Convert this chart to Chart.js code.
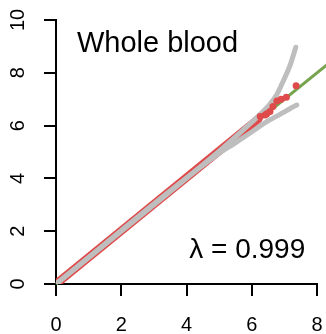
<!DOCTYPE html>
<html>
<head>
<meta charset="utf-8">
<script src="https://cdn.jsdelivr.net/npm/chart.js@4.4.0/dist/chart.umd.min.js"></script>
<style>
  html, body { margin: 0; padding: 0; background: #fff; }
</style>
</head>
<body>
<canvas id="qq" width="326" height="334"></canvas>
<script>
// expected -log10(p) vs observed -log10(p)
const xTicks = [0, 2, 4, 6, 8];
const yTicks = [0, 2, 4, 6, 8, 10];

// reference line y = x
const refLine = [[0, 0], [8.3, 8.3]];

// dense run of observed points along the diagonal
const obsBand = [[0, 0], [6.2, 6.25]];

// top observed points
const obsX = [6.26, 6.41, 6.46, 6.56, 6.65, 6.77, 6.90, 7.06, 7.36];
const obsY = [6.34, 6.40, 6.45, 6.53, 6.72, 6.93, 7.00, 7.07, 7.51];

// confidence band
const upperX = [0, 5.0, 5.5, 6.0, 6.36, 6.56, 6.77, 6.97, 7.18, 7.35];
const upperY = [0, 5.03, 5.57, 6.13, 6.55, 6.82, 7.18, 7.70, 8.30, 8.97];
const lowerX = [0, 5.0, 5.44, 5.95, 6.46, 6.77, 6.97, 7.18, 7.38];
const lowerY = [0, 4.95, 5.3, 5.72, 6.15, 6.36, 6.50, 6.65, 6.78];

const title = 'Whole blood';
const lambdaText = 'λ = 0.999';

const red = '#DF4A4A';
const green = '#78A450';
const grey = '#BEBEBE';
const fontFam = '"Liberation Sans", Arial, sans-serif';

function toPts(xs, ys) {
  return xs.map((x, i) => ({ x: x, y: ys[i] }));
}

// tick labels (y rotated like R's default) and the two text notes
const notes = {
  id: 'notes',
  afterDraw(chart) {
    const ctx = chart.ctx;
    const xs = chart.scales.x;
    const ys = chart.scales.y;
    ctx.save();
    ctx.fillStyle = '#000';
    ctx.font = '20px ' + fontFam;
    ctx.textAlign = 'center';
    ctx.textBaseline = 'alphabetic';
    xTicks.forEach(v => {
      ctx.fillText(String(v), xs.getPixelForValue(v), 331);
    });
    ctx.textBaseline = 'middle';
    yTicks.forEach(v => {
      ctx.save();
      ctx.translate(18, ys.getPixelForValue(v));
      ctx.rotate(-Math.PI / 2);
      ctx.fillText(String(v), 0, 0);
      ctx.restore();
    });
    ctx.font = '29px ' + fontFam;
    ctx.textBaseline = 'alphabetic';
    ctx.textAlign = 'left';
    ctx.fillText(title, xs.getPixelForValue(0.64), ys.getPixelForValue(8.79));
    ctx.font = '28px ' + fontFam;
    ctx.textAlign = 'right';
    ctx.fillText(lambdaText, xs.getPixelForValue(7.64), ys.getPixelForValue(0.97));
    ctx.restore();
  }
};

const axisGrid = { drawOnChartArea: false, color: '#000', lineWidth: 2, tickLength: 12 };

new Chart(document.getElementById('qq'), {
  type: 'scatter',
  data: {
    datasets: [
      {
        data: toPts(obsX, obsY),
        backgroundColor: red,
        borderWidth: 0,
        pointRadius: 3.5,
        showLine: false,
        order: 1
      },
      {
        data: toPts(upperX, upperY),
        borderColor: grey,
        borderWidth: 5,
        pointRadius: 0,
        showLine: true,
        cubicInterpolationMode: 'monotone',
        borderCapStyle: 'round',
        order: 2
      },
      {
        data: toPts(lowerX, lowerY),
        borderColor: grey,
        borderWidth: 5,
        pointRadius: 0,
        showLine: true,
        cubicInterpolationMode: 'monotone',
        borderCapStyle: 'round',
        order: 3
      },
      {
        data: obsBand.map(p => ({ x: p[0], y: p[1] })),
        borderColor: red,
        borderWidth: 8.5,
        pointRadius: 0,
        showLine: true,
        borderCapStyle: 'round',
        order: 4
      },
      {
        data: refLine.map(p => ({ x: p[0], y: p[1] })),
        borderColor: green,
        borderWidth: 3,
        pointRadius: 0,
        showLine: true,
        clip: false,
        order: 5
      }
    ]
  },
  options: {
    responsive: false,
    animation: false,
    devicePixelRatio: 1,
    layout: { padding: { left: 44, right: 9, top: 20, bottom: 38 } },
    plugins: { legend: { display: false }, tooltip: { enabled: false } },
    scales: {
      x: {
        type: 'linear',
        min: 0,
        max: 8,
        afterBuildTicks: s => { s.ticks = xTicks.map(v => ({ value: v })); },
        grid: axisGrid,
        border: { color: '#000', width: 2 },
        ticks: { display: false }
      },
      y: {
        type: 'linear',
        min: 0,
        max: 10,
        afterBuildTicks: s => { s.ticks = yTicks.map(v => ({ value: v })); },
        grid: axisGrid,
        border: { color: '#000', width: 2 },
        ticks: { display: false }
      }
    }
  },
  plugins: [notes]
});
</script>
</body>
</html>
